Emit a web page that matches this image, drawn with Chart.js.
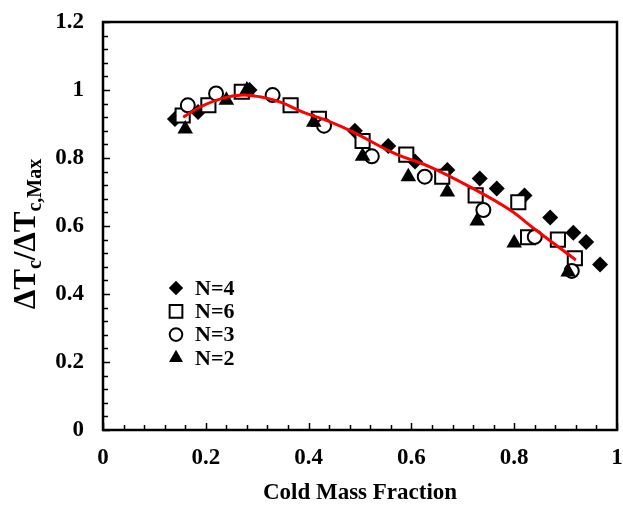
<!DOCTYPE html>
<html>
<head>
<meta charset="utf-8">
<script src="https://cdn.jsdelivr.net/npm/chart.js@4.4.1/dist/chart.umd.min.js"></script>
<style>
  html, body { margin: 0; padding: 0; background: #fff; }
</style>
</head>
<body>
<canvas id="chart" width="623" height="515"></canvas>
<script>
// cold mass fraction vs normalised cold temperature drop, one series per N
const n4X = [0.14, 0.185, 0.285, 0.43, 0.49, 0.555, 0.607, 0.67, 0.733, 0.766, 0.82, 0.87, 0.915, 0.94, 0.967];
const n4Y = [0.915, 0.935, 1.0, 0.895, 0.88, 0.835, 0.79, 0.765, 0.74, 0.71, 0.69, 0.625, 0.58, 0.553, 0.487];

const n6X = [0.155, 0.205, 0.27, 0.365, 0.42, 0.505, 0.59, 0.66, 0.725, 0.808, 0.827, 0.885, 0.918];
const n6Y = [0.925, 0.955, 0.995, 0.955, 0.915, 0.85, 0.81, 0.745, 0.69, 0.67, 0.567, 0.56, 0.505];

const n3X = [0.165, 0.22, 0.33, 0.43, 0.523, 0.626, 0.74, 0.84, 0.912];
const n3Y = [0.955, 0.99, 0.985, 0.895, 0.805, 0.745, 0.647, 0.568, 0.468];

const n2X = [0.16, 0.24, 0.28, 0.41, 0.505, 0.594, 0.67, 0.728, 0.80, 0.905];
const n2Y = [0.885, 0.97, 1.0, 0.905, 0.805, 0.745, 0.70, 0.615, 0.55, 0.465];

// trend curve through the data
const fitX = [0.156, 0.189, 0.233, 0.272, 0.305, 0.344, 0.389, 0.436, 0.486, 0.565, 0.636, 0.714, 0.792, 0.837, 0.92];
const fitY = [0.92, 0.95, 0.976, 0.985, 0.98, 0.965, 0.935, 0.91, 0.877, 0.815, 0.774, 0.715, 0.647, 0.594, 0.5];

const legendNames = ['N=4', 'N=6', 'N=3', 'N=2'];

const xTicks = [0, 0.2, 0.4, 0.6, 0.8, 1];
const yTicks = [0, 0.2, 0.4, 0.6, 0.8, 1, 1.2];

const pts = (xs, ys) => xs.map((x, i) => ({ x: x, y: ys[i] }));

const serif = '"Liberation Serif", "Times New Roman", serif';

const markers = [
  { pointStyle: 'rectRot', radius: 8, backgroundColor: '#000', borderColor: '#000', borderWidth: 0 },
  { pointStyle: 'rect', radius: 10, backgroundColor: '#fff', borderColor: '#000', borderWidth: 2 },
  { pointStyle: 'circle', radius: 7, backgroundColor: '#fff', borderColor: '#000', borderWidth: 2 },
  { pointStyle: 'triangle', radius: 9, backgroundColor: '#000', borderColor: '#000', borderWidth: 0 }
];

const series = [pts(n4X, n4Y), pts(n6X, n6Y), pts(n3X, n3Y), pts(n2X, n2Y)];

const datasets = series.map((d, i) => ({
  type: 'scatter',
  label: legendNames[i],
  data: d,
  order: 5 - i,
  pointStyle: markers[i].pointStyle,
  pointRadius: markers[i].radius,
  pointBackgroundColor: markers[i].backgroundColor,
  pointBorderColor: markers[i].borderColor,
  pointBorderWidth: markers[i].borderWidth,
  showLine: false
}));

datasets.push({
  type: 'line',
  label: 'fit',
  data: pts(fitX, fitY),
  order: 0,
  borderColor: '#ff0000',
  borderWidth: 3,
  pointRadius: 0,
  tension: 0.4,
  fill: false
});

// box, inward ticks, axis titles and the legend
const decor = {
  id: 'decor',
  beforeDatasetsDraw(chart) {
    const ctx = chart.ctx;
    const a = chart.chartArea;
    const xs = chart.scales.x, ys = chart.scales.y;
    ctx.save();
    ctx.strokeStyle = '#000';
    ctx.lineWidth = 1.5;
    ctx.beginPath();
    for (let v = 0; v <= 1.0001; v += 0.04) {
      const px = Math.round(xs.getPixelForValue(v)) + 0.5;
      const major = Math.abs(v * 5 - Math.round(v * 5)) < 1e-6;
      const len = major ? 7 : 5;
      ctx.moveTo(px, a.bottom);
      ctx.lineTo(px, a.bottom - len);
    }
    for (let v = 0; v <= 1.2001; v += 0.04) {
      const py = Math.round(ys.getPixelForValue(v)) + 0.5;
      const major = Math.abs(v * 5 - Math.round(v * 5)) < 1e-6;
      const len = major ? 7 : 5;
      ctx.moveTo(a.left, py);
      ctx.lineTo(a.left + len, py);
    }
    ctx.stroke();
    ctx.lineWidth = 2.5;
    ctx.strokeRect(a.left, a.top, a.right - a.left, a.bottom - a.top);
    ctx.restore();
  },
  afterDraw(chart) {
    const ctx = chart.ctx;
    const a = chart.chartArea;
    ctx.save();
    ctx.fillStyle = '#000';

    // x title
    ctx.font = 'bold 23px ' + serif;
    ctx.textAlign = 'center';
    ctx.textBaseline = 'middle';
    ctx.fillText('Cold Mass Fraction', (a.left + a.right) / 2, 493);

    // y title with subscripts
    const big = 'bold 31px ' + serif;
    const small = 'bold 20px ' + serif;
    const parts = [
      ['ΔT', big, 0], ['c', small, 6], ['/ΔT', big, 0], ['c,Max', small, 6]
    ];
    let total = 0;
    parts.forEach(p => { ctx.font = p[1]; total += ctx.measureText(p[0]).width; });
    ctx.translate(35, 234);
    ctx.rotate(-Math.PI / 2);
    ctx.textAlign = 'left';
    ctx.textBaseline = 'alphabetic';
    let cx = -total / 2;
    parts.forEach(p => {
      ctx.font = p[1];
      ctx.fillText(p[0], cx, p[2]);
      cx += ctx.measureText(p[0]).width;
    });
    ctx.restore();

    // legend
    ctx.save();
    ctx.font = 'bold 22px ' + serif;
    ctx.textAlign = 'left';
    ctx.textBaseline = 'middle';
    legendNames.forEach((name, i) => {
      const y = 288 + i * 23.3;
      const m = markers[i];
      ctx.fillStyle = m.backgroundColor;
      ctx.strokeStyle = m.borderColor;
      ctx.lineWidth = m.borderWidth;
      Chart.helpers.drawPoint(ctx, {
        pointStyle: m.pointStyle, radius: m.radius * 0.9, rotation: 0, borderWidth: m.borderWidth
      }, 176, y);
      ctx.fillStyle = '#000';
      ctx.fillText(name, 195, y + 1);
    });
    ctx.restore();
  }
};

new Chart(document.getElementById('chart'), {
  data: { datasets: datasets },
  options: {
    responsive: false,
    animation: false,
    layout: { autoPadding: false, padding: { top: 22, right: 6, left: 0, bottom: 0 } },
    plugins: { legend: { display: false }, tooltip: { enabled: false } },
    scales: {
      x: {
        type: 'linear',
        min: 0, max: 1,
        afterFit: s => { s.height = 85; s.paddingLeft = 0; s.paddingRight = 0; },
        afterBuildTicks: s => { s.ticks = xTicks.map(v => ({ value: v })); },
        grid: { display: false, drawTicks: false },
        border: { display: false },
        ticks: {
          padding: 14,
          color: '#000',
          maxRotation: 0,
          autoSkip: false,
          callback: v => String(v),
          font: { family: serif, size: 23, weight: 'bold' }
        }
      },
      y: {
        type: 'linear',
        min: 0, max: 1.2,
        afterFit: s => { s.width = 103; s.paddingTop = 0; s.paddingBottom = 0; },
        afterBuildTicks: s => { s.ticks = yTicks.map(v => ({ value: v })); },
        grid: { display: false, drawTicks: false },
        border: { display: false },
        ticks: {
          padding: 19,
          color: '#000',
          autoSkip: false,
          callback: v => String(v),
          font: { family: serif, size: 23, weight: 'bold' }
        }
      }
    }
  },
  plugins: [decor]
});
</script>
</body>
</html>
